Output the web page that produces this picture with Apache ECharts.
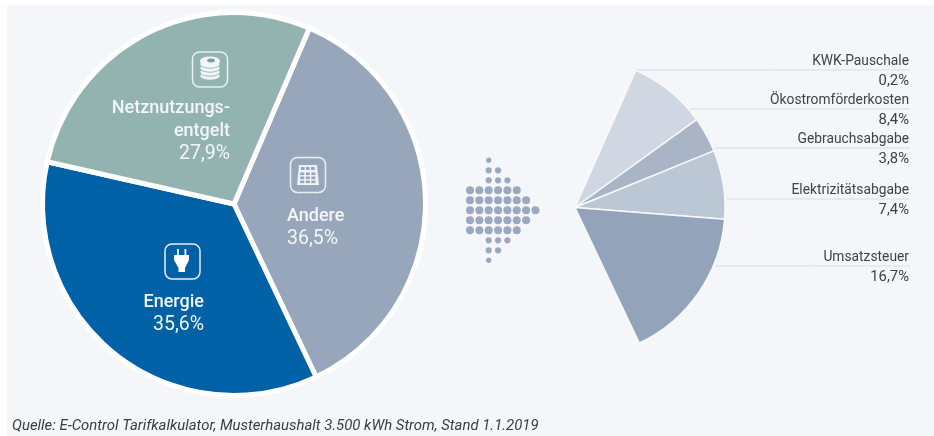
<!DOCTYPE html>
<html>
<head>
<meta charset="utf-8">
<style>html,body{margin:0;padding:0;background:#fff}#c{width:934px;height:436px}</style>
<script src="https://cdn.jsdelivr.net/npm/echarts@6/dist/echarts.min.js"></script>
</head>
<body>
<div id="c"></div>
<script>
// Electricity price composition, household reference 2019
const shareNames = ['Andere', 'Energie', 'Netznutzungs-\nentgelt'];
const shareValues = [36.5, 35.6, 27.9];
const shareColors = ['#98a6bc', '#0061a7', '#93b3b1'];

const otherNames = ['KWK-Pauschale', 'Ökostromförderkosten', 'Gebrauchsabgabe', 'Elektrizitätsabgabe', 'Umsatzsteuer'];
const otherValues = [0.2, 8.4, 3.8, 7.4, 16.7];
const otherColors = ['#e2e6ee', '#d0d7e2', '#a9b5c7', '#bcc7d6', '#93a3ba'];

// Rows of the arrow glyph between the two pies: first column and dot count
const arrowRows = [[2, 1], [2, 2], [2, 3], [0, 6], [0, 7], [0, 8], [0, 7], [0, 6], [2, 3], [2, 2], [2, 1]];

const sourceText = 'Quelle: E-Control Tarifkalkulator, Musterhaushalt 3.500 kWh Strom, Stand 1.1.2019';

const FONT = 'Roboto, "Open Sans", sans-serif';
const startAngle = 66.8;
const pct = v => v.toFixed(1).replace('.', ',') + '%';
const richLabel = p => p.name.split('\n').map(l => '{n|' + l + '}').join('\n') + '\n{v|' + pct(p.value) + '}';

// Placement of the main pie's text and the sub pie's leader rows
const mainAnchors = [
  { x: 287, y: 228, align: 'left' },
  { x: 204, y: 314, align: 'right' },
  { x: 230, y: 131.5, align: 'right' }
];
const leaderRows = [70, 109, 148, 199, 266];
const sub = { cx: 575, cy: 207.5, r: 150, textX: 909, lineEnd: 910 };

// Arrow made of dots, sized by distance from the body of the arrow
const dots = [];
arrowRows.forEach((row, i) => {
  for (let k = 0; k < row[1]; k++) {
    const edge = i < 3 || i > 7;
    dots.push({
      type: 'circle',
      z: 1,
      shape: { cx: 470 + (row[0] + k) * 9.35, cy: 160.3 + i * 10, r: edge ? (i === 0 || i === 10 ? 2.7 : 3.1) : 4 },
      style: { fill: '#9ba9c0' }
    });
  }
});

const frame = (x, y, s) => ({
  type: 'rect',
  shape: { x, y, width: s, height: s, r: 7 },
  style: { fill: 'none', stroke: '#e9f0f3', lineWidth: 1.5 }
});

// Coins
const coinIcon = [frame(192.5, 52, 35)];
[76, 72, 68, 64].forEach(y => coinIcon.push({
  type: 'ellipse',
  shape: { cx: 210, cy: y, rx: 10, ry: 4.2 },
  style: { fill: '#f2f6f6', stroke: '#93b3b1', lineWidth: 0.9 }
}));
coinIcon.push({ type: 'ellipse', shape: { cx: 210, cy: 61, rx: 10, ry: 4.6 }, style: { fill: '#f2f6f6' } });
coinIcon.push({ type: 'ellipse', shape: { cx: 211, cy: 60.5, rx: 4, ry: 2 }, style: { fill: '#7f9c9a' } });

// Calculator
const calcIcon = [frame(290.5, 157.5, 35),
  { type: 'polygon', shape: { points: [[299, 165], [317, 165], [319, 185], [297, 185]] }, style: { fill: '#eef1f5' } }];
for (let c = 0; c < 3; c++) {
  calcIcon.push({ type: 'rect', shape: { x: 301 + c * 5, y: 167, width: 3.6, height: 3 }, style: { fill: '#98a6bc' } });
  for (let r = 0; r < 3; r++) {
    calcIcon.push({ type: 'rect', shape: { x: 300.2 + c * 5.6, y: 172.5 + r * 4, width: 4, height: 2.6 }, style: { fill: '#98a6bc' } });
  }
}

// Plug
const plugIcon = [frame(165, 244, 35),
  { type: 'rect', shape: { x: 177, y: 249, width: 1.8, height: 6 }, style: { fill: '#fff' } },
  { type: 'rect', shape: { x: 184.5, y: 249, width: 1.8, height: 6 }, style: { fill: '#fff' } },
  { type: 'polygon', shape: { points: [[174, 255], [189, 255], [189, 260], [185, 268], [185, 272], [178.5, 272], [178.5, 268], [174, 260]] }, style: { fill: '#fff' } }];

// Icons sit above the pie sectors, each shape needs its own stacking value
const iconShapes = coinIcon.concat(calcIcon, plugIcon).map((s, i) => Object.assign({ z: 20 + i, silent: true }, s));

const chart = echarts.init(document.getElementById('c'), null, { renderer: 'canvas' });
chart.setOption({
  animation: false,
  backgroundColor: '#ffffff',
  graphic: [
    { type: 'rect', z: -10, silent: true, shape: { x: 7, y: 5, width: 927, height: 431 }, style: { fill: '#f5f6fa' } },
    { type: 'group', silent: true, children: dots },
    { type: 'group', silent: true, children: iconShapes },
    { type: 'text', z: 20, silent: true, x: 12, y: 426,
      style: { text: sourceText, fill: '#3a3d42', font: 'italic 14.9px ' + FONT, verticalAlign: 'middle' } }
  ],
  series: [
    {
      type: 'pie',
      center: [234, 204],
      radius: [0, 191.5],
      startAngle: startAngle,
      clockwise: true,
      avoidLabelOverlap: false,
      silent: true,
      itemStyle: { borderColor: '#ffffff', borderWidth: 5 },
      label: {
        show: true,
        position: 'inside',
        formatter: richLabel,
        rich: {
          n: { color: '#f2f6f8', fontFamily: FONT, fontWeight: 500, fontSize: 18, lineHeight: 23 },
          v: { color: '#f2f6f8', fontFamily: FONT, fontWeight: 400, fontSize: 19.5, lineHeight: 24 }
        }
      },
      labelLine: { show: false },
      labelLayout: p => ({
        x: mainAnchors[p.dataIndex].x,
        y: mainAnchors[p.dataIndex].y,
        align: mainAnchors[p.dataIndex].align,
        verticalAlign: 'middle'
      }),
      data: shareNames.map((n, i) => ({ name: n, value: shareValues[i], itemStyle: { color: shareColors[i] } }))
    },
    {
      // The sub pie spans exactly the angle taken by "Andere" in the main pie
      type: 'pie',
      center: [sub.cx, sub.cy],
      radius: [0, sub.r],
      startAngle: startAngle,
      endAngle: startAngle - shareValues[0] * 3.6,
      clockwise: true,
      avoidLabelOverlap: false,
      silent: true,
      itemStyle: { borderColor: '#f8f9fb', borderWidth: 1.4 },
      label: {
        show: true,
        position: 'outside',
        formatter: richLabel,
        rich: {
          n: { color: '#3f4247', fontFamily: FONT, fontSize: 13.8, lineHeight: 19 },
          v: { color: '#3f4247', fontFamily: FONT, fontSize: 14.8, lineHeight: 19 }
        }
      },
      labelLine: { show: true, lineStyle: { color: '#d6dbe6', width: 1 } },
      labelLayout: p => {
        const y = leaderRows[p.dataIndex];
        const dy = y - sub.cy;
        const from = sub.cx + Math.sqrt(sub.r * sub.r - dy * dy) + 2;
        return {
          x: sub.textX,
          y: y + 1.5,
          align: 'right',
          verticalAlign: 'middle',
          labelLinePoints: [[from, y], [(from + sub.lineEnd) / 2, y], [sub.lineEnd, y]]
        };
      },
      data: otherNames.map((n, i) => ({ name: n, value: otherValues[i], itemStyle: { color: otherColors[i] } }))
    }
  ]
});
</script>
</body>
</html>
